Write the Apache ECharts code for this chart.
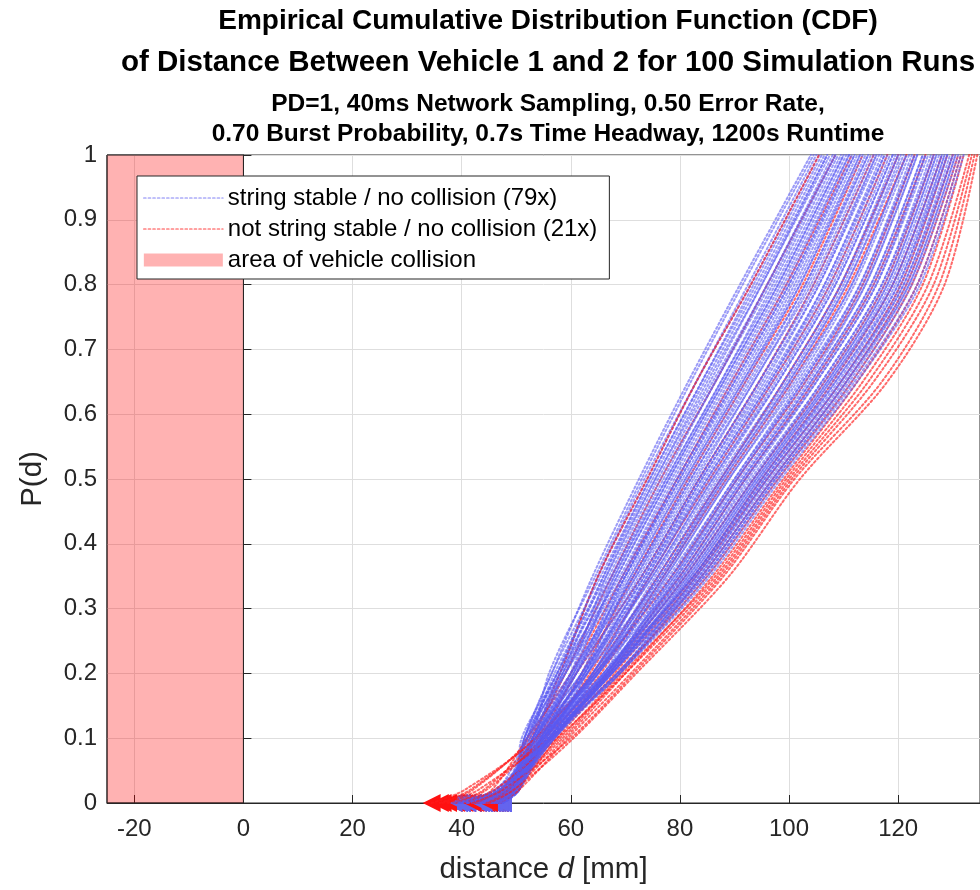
<!DOCTYPE html>
<html>
<head>
<meta charset="utf-8">
<script src="https://cdn.jsdelivr.net/npm/echarts@6/dist/echarts.min.js"></script>
<style>
  html, body { margin: 0; padding: 0; background: #fff; }
  #chart { width: 980px; height: 890px; }
</style>
</head>
<body>
<div id="chart"></div>
<script>
// Probability levels at which every run's empirical CDF is sampled
const pLevels = [0, 0.02, 0.1, 0.2, 0.35, 0.5, 0.65, 0.8, 1];

// Distance d [mm] reached at each level of pLevels, one row per run
const stableRuns = [
  [47, 49.5, 51.5, 56.5, 64, 72.5, 81.5, 91, 104],
  [44.5, 48.5, 53, 56, 64.5, 73, 82, 91.5, 104.5],
  [47, 50, 51, 57.5, 65, 73.5, 83, 92.5, 105],
  [42, 47.5, 52, 58, 65, 74, 83, 93, 105.5],
  [46, 49, 51.5, 56.5, 65.5, 74.5, 84, 93.5, 106],
  [39.5, 47, 53.5, 58.5, 66, 74.5, 84, 94, 106.5],
  [47.5, 49.5, 52, 57.5, 66, 75, 84.5, 94.5, 107],
  [45, 49, 52.5, 57, 66.5, 75.5, 85, 95, 107],
  [43, 48, 54, 60, 66.5, 75.5, 85.5, 95, 107.5],
  [47.5, 50.5, 51.5, 58, 67, 76, 86, 96, 108],
  [41, 47.5, 53, 59, 67.5, 76.5, 86.5, 96, 108.5],
  [46.5, 49.5, 52, 57.5, 67.5, 77, 86.5, 96.5, 108.5],
  [38.5, 46, 54.5, 60.5, 68, 77.5, 87.5, 97, 109],
  [44, 48.5, 53, 58.5, 68, 77.5, 87.5, 97.5, 109.5],
  [47.5, 50, 51.5, 59, 68.5, 78, 88, 98, 110],
  [45.5, 49, 53.5, 60, 68.5, 78, 88, 98, 110],
  [40, 47, 53, 58, 69, 78.5, 88.5, 98.5, 110.5],
  [47, 50, 54.5, 61, 69.5, 79, 89, 99, 111],
  [43.5, 48, 52, 58.5, 69.5, 79.5, 89.5, 99.5, 111],
  [46, 49.5, 53.5, 60.5, 70, 79.5, 90, 100, 111.5],
  [47, 49.5, 55, 62, 70, 80, 90, 100, 112],
  [44.5, 48.5, 52.5, 59, 70, 80, 90.5, 100.5, 112],
  [47, 50.5, 54, 61, 70.5, 80.5, 91, 101, 112.5],
  [42, 47.5, 53, 60, 71, 81, 91.5, 101.5, 113],
  [46, 49, 55, 62.5, 71, 81, 91.5, 102, 113],
  [39.5, 46.5, 52, 60, 71.5, 81.5, 92, 102, 113.5],
  [47.5, 49.5, 53.5, 61, 71.5, 82, 92.5, 103, 114],
  [45, 49, 54.5, 62, 72, 82, 93, 103, 114.5],
  [43, 48, 53, 60.5, 72, 82.5, 93.5, 103.5, 114.5],
  [47.5, 50.5, 54.5, 62.5, 72.5, 83, 93.5, 104, 115],
  [41, 47.5, 53.5, 61, 73, 83.5, 94.5, 104.5, 115.5],
  [46.5, 49.5, 55.5, 63, 73, 83.5, 94.5, 105, 116],
  [44, 48.5, 53, 62, 73.5, 84, 95, 105.5, 116],
  [47.5, 50, 54.5, 62.5, 73.5, 84, 95.5, 105.5, 116.5],
  [45.5, 49, 54, 64, 74, 84.5, 96, 106.5, 117],
  [40, 47, 56, 63, 74, 85, 96.5, 106.5, 117.5],
  [47, 50, 53.5, 62, 74.5, 85, 96.5, 107, 117.5],
  [43.5, 48, 55, 64, 74.5, 85.5, 97, 107.5, 118],
  [46, 49.5, 54.5, 62.5, 75, 86, 97.5, 108, 118.5],
  [47, 49.5, 53.5, 63, 75, 86, 98, 108.5, 119],
  [44.5, 48.5, 55, 64.5, 75.5, 86.5, 98, 108.5, 119],
  [47, 50.5, 54.5, 64, 76, 87, 99, 109.5, 119.5],
  [42, 47.5, 56, 65, 76, 87.5, 99, 109.5, 120],
  [46, 49, 54, 63, 76.5, 87.5, 99.5, 110, 120],
  [39.5, 46.5, 55, 64.5, 76.5, 88, 100, 110.5, 120.5],
  [47.5, 49.5, 55.5, 64, 77, 88, 100, 110.5, 121],
  [45, 49, 54.5, 65, 77, 88.5, 100.5, 111.5, 121.5],
  [43, 48, 56.5, 66, 77.5, 89, 101, 111.5, 121.5],
  [47.5, 50.5, 54.5, 64.5, 77.5, 89, 101.5, 112, 122],
  [41, 47.5, 56, 65, 78, 90, 102, 113, 122.5],
  [46.5, 49.5, 55, 66.5, 78.5, 90, 102.5, 113, 123],
  [44, 48.5, 55, 64.5, 78.5, 90.5, 102.5, 113.5, 123],
  [38.5, 46, 56.5, 66.5, 79, 90.5, 103, 114, 123.5],
  [47.5, 50, 55.5, 65, 79, 91, 103.5, 114, 123.5],
  [45.5, 49, 54.5, 66, 79.5, 91.5, 104, 115, 124.5],
  [40, 47, 56, 67, 79.5, 91.5, 104, 115, 124.5],
  [47, 50, 55, 65, 80, 92, 104.5, 115.5, 125],
  [43.5, 48, 56.5, 66.5, 80, 92, 105, 116, 125],
  [46, 49.5, 56, 66, 80.5, 92.5, 105, 116, 125.5],
  [47, 49.5, 55, 66.5, 80.5, 93, 106, 117, 126],
  [44.5, 48.5, 57, 67, 81, 93.5, 106, 117, 126.5],
  [47, 50.5, 55.5, 66.5, 81, 93.5, 106.5, 117.5, 126.5],
  [42, 47.5, 56, 67.5, 81.5, 94, 107, 118, 127],
  [46, 49, 55, 66, 81.5, 94, 107, 118, 127],
  [39.5, 46.5, 56.5, 67, 82, 94.5, 107.5, 118.5, 127.5],
  [47.5, 49.5, 56, 67.5, 82, 94.5, 107.5, 119, 128],
  [45, 49, 55.5, 66.5, 82.5, 95, 108, 119, 128],
  [43, 48, 56.5, 67.5, 82.5, 95, 108.5, 119.5, 128.5],
  [47.5, 50.5, 56, 67, 82.5, 95.5, 108.5, 120, 128.5],
  [41, 47.5, 55, 68.5, 83, 95.5, 109, 120, 129],
  [46.5, 49.5, 56.5, 67.5, 83, 96, 109.5, 120.5, 129],
  [44, 48.5, 57, 67, 83.5, 96, 109.5, 121, 129.5],
  [47.5, 50, 56, 68.5, 83.5, 96.5, 110, 121, 130],
  [45.5, 49, 56.5, 67.5, 84, 97, 110.5, 121.5, 130],
  [40, 47, 56, 69, 84, 97, 110.5, 122, 130.5],
  [47, 50, 57, 68.5, 84.5, 97.5, 111, 122, 130.5],
  [43.5, 48, 56.5, 67.5, 84.5, 97.5, 111.5, 122.5, 131],
  [46, 49.5, 57, 69, 85, 98, 112, 123.5, 131.5],
  [47, 49.5, 56.5, 69, 85.5, 98.5, 112.5, 124, 132]
];

const unstableRuns = [
  [36.5, 42, 52.5, 58, 65, 74, 83, 93, 105.5],
  [45, 49, 53, 59, 67.5, 76.5, 86.5, 96, 108.5],
  [41, 45.5, 52, 60, 69.5, 79.5, 89.5, 99.5, 111.5],
  [47, 50, 55, 62, 71.5, 81.5, 92, 102.5, 113.5],
  [34.5, 40.5, 53.5, 61, 73, 83.5, 94.5, 104.5, 115.5],
  [44, 48.5, 55.5, 63.5, 74.5, 85.5, 97, 107.5, 118],
  [38.5, 44, 54, 64, 76, 87.5, 99, 109.5, 120],
  [46.5, 49.5, 56, 65.5, 77, 88.5, 100.5, 111, 121.5],
  [36, 41.5, 53.5, 64.5, 78.5, 90.5, 103, 113.5, 123],
  [42.5, 47, 56.5, 66.5, 80, 92, 104.5, 115.5, 125],
  [45.5, 49, 57, 67, 81, 93.5, 106.5, 117.5, 126.5],
  [39, 44.5, 55, 67, 82.5, 95, 108, 119, 128],
  [47, 50, 57.5, 68, 83, 96, 109.5, 120.5, 129],
  [43, 48, 58, 69, 84, 97, 110.5, 121.5, 130],
  [37.5, 43, 56, 68.5, 85, 98, 111.5, 122.5, 131],
  [46, 49.5, 59, 70, 86, 99, 112.5, 123.5, 131.5],
  [44.5, 48.5, 58.5, 69.5, 86.5, 99.5, 113.5, 124.5, 132],
  [40.5, 46, 57.5, 70, 87, 100, 114.5, 125.5, 133],
  [47, 50.5, 59.5, 71, 87.5, 100.5, 115.5, 126.5, 133.5],
  [42, 47.5, 60, 71.5, 88, 101, 117, 127.5, 134],
  [45, 49.5, 60.5, 72, 89, 102, 118, 128.5, 134.5]
];

const collisionZone = [-25, 0];
const xTicks = [-20, 0, 20, 40, 60, 80, 100, 120];

const NAME_STABLE = 'string stable / no collision (79x)';
const NAME_UNSTABLE = 'not string stable / no collision (21x)';
const NAME_AREA = 'area of vehicle collision';

const FONT = '"Liberation Sans", Arial, Helvetica, sans-serif';
const AXIS_COLOR = '#262626';
const BLUE = '#5a5af2';
const RED = '#ff1a1a';
const PINK = 'rgba(255, 0, 0, 0.3)';
const DOT = [2, 2.6];

// Mix the two groups so that they are drawn in interleaved order
const runs = [];
let u = 0;
stableRuns.forEach((row, i) => {
  runs.push({ row, stable: true });
  if (u < unstableRuns.length && (i + 1) * unstableRuns.length / stableRuns.length >= u + 1) {
    runs.push({ row: unstableRuns[u], stable: false });
    u++;
  }
});
while (u < unstableRuns.length) { runs.push({ row: unstableRuns[u++], stable: false }); }

const series = [{
  name: NAME_AREA,
  type: 'line',
  data: [],
  silent: true,
  markArea: {
    silent: true,
    itemStyle: { color: PINK, borderColor: AXIS_COLOR, borderWidth: 1 },
    data: [[{ xAxis: collisionZone[0], yAxis: 0 }, { xAxis: collisionZone[1], yAxis: 1 }]]
  }
}];

runs.forEach(r => {
  series.push({
    name: r.stable ? NAME_STABLE : NAME_UNSTABLE,
    type: 'line',
    symbol: 'none',
    smooth: 0.3,
    silent: true,
    animation: false,
    lineStyle: {
      color: r.stable ? BLUE : RED,
      width: 2,
      type: DOT,
      cap: 'round',
      opacity: r.stable ? 0.6 : 0.65
    },
    data: r.row.map((d, k) => [d, pLevels[k]])
  });
});

// Left-pointing markers at the smallest distance of each run
series.push({
  name: 'run minimum',
  type: 'scatter',
  symbol: 'triangle',
  symbolRotate: 90,
  symbolSize: [18, 18],
  clip: false,
  silent: true,
  animation: false,
  data: runs.map(r => ({
    value: [r.row[0], pLevels[0]],
    itemStyle: { color: r.stable ? '#6464ee' : '#ff1010', opacity: 1 }
  }))
});

const chart = echarts.init(document.getElementById('chart'), null, { renderer: 'canvas' });
chart.setOption({
  animation: false,
  backgroundColor: '#fff',
  textStyle: { fontFamily: FONT },
  title: [
    { text: 'Empirical Cumulative Distribution Function (CDF)', top: 7, fs: 28 },
    { text: 'of Distance Between Vehicle 1 and 2 for 100 Simulation Runs', top: 48, fs: 29.5 },
    { text: 'PD=1, 40ms Network Sampling, 0.50 Error Rate,', top: 92, fs: 24.5 },
    { text: '0.70 Burst Probability, 0.7s Time Headway, 1200s Runtime', top: 122, fs: 24.5 }
  ].map(t => ({
    text: t.text, left: 548, top: t.top, textAlign: 'center', padding: 0,
    textStyle: { fontFamily: FONT, fontSize: t.fs, fontWeight: 'bold', color: '#000' }
  })),
  grid: {
    left: 107, top: 155, width: 880, height: 652,
    show: true, borderColor: AXIS_COLOR, borderWidth: 1, backgroundColor: 'transparent'
  },
  legend: {
    left: 137, top: 176, orient: 'vertical', align: 'left',
    padding: [9, 12, 6, 6], itemGap: 5, itemWidth: 79, itemHeight: 13,
    backgroundColor: '#fff', borderColor: AXIS_COLOR, borderWidth: 1, borderRadius: 0,
    selectedMode: false,
    textStyle: { fontFamily: FONT, fontSize: 24, lineHeight: 26, color: '#000' },
    data: [
      { name: NAME_STABLE, itemStyle: { opacity: 0 },
        lineStyle: { color: BLUE, width: 1.7, type: DOT, opacity: 0.5 } },
      { name: NAME_UNSTABLE, itemStyle: { opacity: 0 },
        lineStyle: { color: RED, width: 1.7, type: DOT, opacity: 0.55 } },
      { name: NAME_AREA, icon: 'rect', itemStyle: { color: PINK, borderWidth: 0 } }
    ]
  },
  xAxis: {
    type: 'value', min: collisionZone[0], max: 135,
    name: 'distance {i|d} [mm]', nameLocation: 'middle', nameGap: 52,
    nameTextStyle: {
      fontFamily: FONT, fontSize: 29.5, color: AXIS_COLOR,
      rich: { i: { fontFamily: FONT, fontSize: 29.5, fontStyle: 'italic', color: AXIS_COLOR } }
    },
    axisLine: { show: true, onZero: false, lineStyle: { color: AXIS_COLOR, width: 1 } },
    axisTick: { show: true, inside: true, length: 8, customValues: xTicks, lineStyle: { color: AXIS_COLOR } },
    axisLabel: { customValues: xTicks, margin: 14, fontFamily: FONT, fontSize: 24, color: AXIS_COLOR },
    splitLine: { show: true, lineStyle: { color: '#dedede', width: 1 } }
  },
  yAxis: {
    type: 'value', min: 0, max: 1, interval: 0.1,
    name: 'P(d)', nameLocation: 'middle', nameGap: 59, nameRotate: 90,
    nameTextStyle: { fontFamily: FONT, fontSize: 29.5, color: AXIS_COLOR },
    axisLine: { show: true, lineStyle: { color: AXIS_COLOR, width: 1 } },
    axisTick: { show: true, inside: true, length: 8, lineStyle: { color: AXIS_COLOR } },
    axisLabel: { margin: 10, fontFamily: FONT, fontSize: 24, color: AXIS_COLOR },
    splitLine: { show: true, lineStyle: { color: '#dedede', width: 1 } }
  },
  series
});
</script>
</body>
</html>
